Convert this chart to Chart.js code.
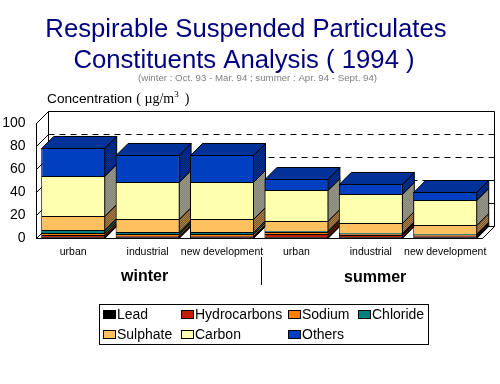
<!DOCTYPE html>
<html>
<head>
<meta charset="utf-8">
<style>html,body{margin:0;padding:0;background:#fff}canvas{display:block}</style>
<script src="https://cdn.jsdelivr.net/npm/chart.js@4"></script>
</head>
<body>
<canvas id="c" width="500" height="384"></canvas>
<script>
const titleLines = ["Respirable Suspended Particulates","Constituents Analysis ( 1994 )"];
const categories = ["urban","industrial","new development","urban","industrial","new development"];
const yTicks = [0,20,40,60,80,100];
const lead         = [0.9, 0.9, 0.9, 0.9, 0.9, 0.9];
const hydrocarbons = [1.7, 0.8, 0.8, 2.6, 1.7, 0.8];
const sodium       = [1.7, 1.8, 1.8, 1.7, 0.9, 0.9];
const chloride     = [2.7, 1.7, 1.7, 0.9, 0.8, 0.9];
const sulphate     = [12.1, 11.3, 11.3, 8.7, 8.7, 7.8];
const carbon       = [34.8, 32.2, 32.2, 26.9, 25.3, 21.7];
const others       = [24.4, 23.5, 23.5, 9.6, 8.7, 7.0];
const seriesNames  = ["Lead","Hydrocarbons","Sodium","Chloride","Sulphate","Carbon","Others"];
const seriesValues = [lead,hydrocarbons,sodium,chloride,sulphate,carbon,others];
const seriesColors = ["#000000","#c02000","#ff8000","#008080","#ffc060","#ffffb0","#0040c0"];
const sideA = ["#000000","#701000","#a05000","#004848","#80562a","#84847a","#002068"];
const sideB = ["#000000","#902000","#c06000","#006060","#a88048","#989884","#0030a0"];
const topA = "#003094", topB = "#00349c";
const DEPTH = 12;

function dither(ctx,a,b){
  const p=document.createElement('canvas');p.width=2;p.height=2;
  const g=p.getContext('2d');g.fillStyle=a;g.fillRect(0,0,2,2);
  g.fillStyle=b;g.fillRect(0,0,1,1);g.fillRect(1,1,1,1);
  return ctx.createPattern(p,'repeat');
}
function poly(ctx,pts,fill){
  ctx.beginPath();pts.forEach((q,i)=>i?ctx.lineTo(q[0],q[1]):ctx.moveTo(q[0],q[1]));ctx.closePath();
  if(fill){ctx.fillStyle=fill;ctx.fill();}
  ctx.strokeStyle='#000';ctx.lineWidth=1;ctx.stroke();
}
const scene={
  id:'scene',
  beforeDatasetsDraw(chart){
    const ctx=chart.ctx,a=chart.chartArea,ys=chart.scales.y;
    const L=Math.round(a.left),R=Math.round(a.right),T=Math.round(a.top),B=Math.round(a.bottom),d=DEPTH;
    ctx.save();
    ctx.lineWidth=1;ctx.strokeStyle='#000';
    poly(ctx,[[L+d+.5,T-d+.5],[R+d+.5,T-d+.5],[R+d+.5,B-d+.5],[L+d+.5,B-d+.5]],'#fff');
    poly(ctx,[[L+.5,B+.5],[L+d+.5,B-d+.5],[R+d+.5,B-d+.5],[R+.5,B+.5]],'#fff');
    yTicks.forEach(t=>{
      const y=Math.round(ys.getPixelForValue(t))+.5;
      ctx.beginPath();ctx.moveTo(L+.5,y);ctx.lineTo(L+d+.5,y-d);ctx.stroke();
      if(t>0&&t<100){
        ctx.save();ctx.setLineDash([6,5]);
        ctx.beginPath();ctx.moveTo(L+d+.5,y-d);ctx.lineTo(R+d+.5,y-d);ctx.stroke();
        ctx.restore();
      }
    });
    categories.forEach((_,j)=>{
      seriesValues.forEach((_,i)=>{
        const el=chart.getDatasetMeta(i).data[j];
        const xr=el.x+el.width/2-.5,yt=el.y+.5,yb=el.base+.5;
        poly(ctx,[[xr,yt],[xr+d,yt-d],[xr+d,yb-d],[xr,yb]],dither(ctx,sideA[i],sideB[i]));
      });
      const el=chart.getDatasetMeta(seriesValues.length-1).data[j];
      const xl=el.x-el.width/2+.5,xr=el.x+el.width/2-.5,yt=el.y+.5;
      poly(ctx,[[xl,yt],[xl+d,yt-d],[xr+d,yt-d],[xr,yt]],dither(ctx,topA,topB));
    });
    ctx.restore();
  },
  afterDraw(chart){
    const ctx=chart.ctx;
    ctx.save();
    ctx.textBaseline='alphabetic';ctx.textAlign='center';
    ctx.fillStyle='#000080';ctx.font='25.7px "Liberation Sans"';
    ctx.fillText(titleLines[0],246,37);
    ctx.fillText(titleLines[1],244,68);
    ctx.fillStyle='#808080';ctx.font='9.7px "Liberation Sans"';
    ctx.fillText("(winter : Oct. 93 - Mar. 94 ; summer : Apr. 94 - Sept. 94)",257.5,81);
    ctx.textAlign='left';ctx.fillStyle='#000';
    let x=47;const y=103;
    const put=(s,f,yy)=>{ctx.font=f;ctx.fillText(s,x,yy===undefined?y:yy);x+=ctx.measureText(s).width;};
    put('Concentration','13.7px "Liberation Sans"');
    x+=4;
    put('( ','14px "Liberation Serif"');
    put('\u00b5g/m','14px "Liberation Serif"');
    put('3','9px "Liberation Serif"',y-6);
    x+=6;
    put(')','14px "Liberation Serif"');
    ctx.font='bold 16px "Liberation Sans"';
    ctx.fillText('winter',121,281);
    ctx.fillText('summer',344,282);
    ctx.beginPath();ctx.moveTo(261.5,257);ctx.lineTo(261.5,285);ctx.strokeStyle='#000';ctx.lineWidth=1;ctx.stroke();
    ctx.strokeRect(99.5,304.5,329,40);
    const colX=[103,181,288,358,103,181,288],rowY=[315,315,315,315,335,335,335];
    ctx.font='14px "Liberation Sans"';ctx.textBaseline='middle';
    chart.data.datasets.forEach((ds,i)=>{
      ctx.fillStyle=ds.backgroundColor;
      ctx.fillRect(colX[i]+.5,rowY[i]-4.5,12,8);
      ctx.strokeRect(colX[i]+.5,rowY[i]-4.5,12,8);
      ctx.fillStyle='#000';
      ctx.fillText(ds.label,colX[i]+14,rowY[i]+.5);
    });
    ctx.restore();
  }
};
new Chart(document.getElementById('c'),{
  type:'bar',
  data:{labels:categories,datasets:seriesNames.map((n,i)=>({
    label:n,data:seriesValues[i],backgroundColor:seriesColors[i],
    borderColor:'#000',borderWidth:1,borderSkipped:'start'
  }))},
  options:{
    responsive:false,animation:false,
    layout:{padding:{left:0,right:17.6,top:123,bottom:0}},
    datasets:{bar:{barPercentage:1,categoryPercentage:0.86}},
    plugins:{legend:{display:false},tooltip:{enabled:false},title:{display:false}},
    scales:{
      x:{stacked:true,grid:{display:false,drawTicks:false},border:{display:true,color:'#000'},
        ticks:{color:'#000',font:{family:'"Liberation Sans"',size:10.5},padding:8,maxRotation:0,autoSkip:false},
        afterFit(s){s.height=146;}},
      y:{stacked:true,min:0,max:100,grid:{display:false,drawTicks:false},border:{display:true,color:'#000'},
        afterBuildTicks(s){s.ticks=yTicks.map(v=>({value:v}));},
        ticks:{color:'#000',font:{family:'"Liberation Sans"',size:14},padding:10.5},
        afterFit(s){s.width=36;}}
    }
  },
  plugins:[scene]
});
</script>
</body>
</html>
